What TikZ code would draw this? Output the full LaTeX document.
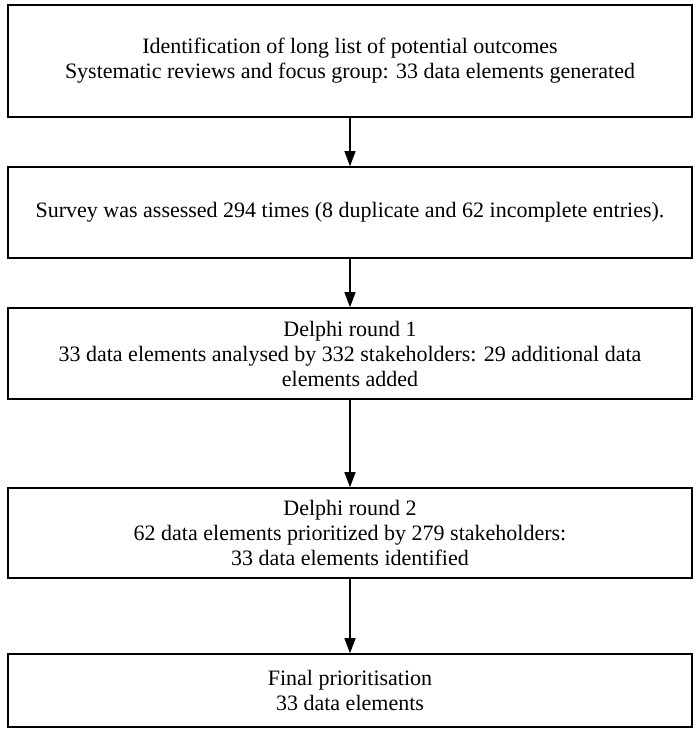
\documentclass[tikz,border=0pt]{standalone}
\usepackage{fontspec}
\setmainfont{Liberation Serif}
\usetikzlibrary{arrows.meta}
\tikzset{stage/.append style={draw, line width=0.8pt, minimum width=342pt, inner sep=0pt, align=center, font=\fontsize{11}{12.5}\selectfont}}
\tikzset{flow/.append style={line width=0.55pt, -{Triangle[length=7.5pt,width=5.5pt]}}}

\begin{document}
\begin{tikzpicture}[x=0.5pt,y=-0.5pt]
                \useasboundingbox (0,0) rectangle (700,733);
                % stages
                \node[stage,minimum height=56pt] (ident) at (350,61) {Identification of long list of potential outcomes\\Systematic reviews and focus group: 33 data elements generated};
                \node[stage,minimum height=45.5pt] (survey) at (350,212.5) {Survey was assessed 294 times (8 duplicate and 62 incomplete entries).};
                \node[stage,minimum height=45.5pt] (rone) at (350,353.5) {Delphi round 1\\33 data elements analysed by 332 stakeholders: 29 additional data\\elements added};
                \node[stage,minimum height=45pt] (rtwo) at (350,533) {Delphi round 2\\62 data elements prioritized by 279 stakeholders:\\33 data elements identified};
                \node[stage,minimum height=36.5pt] (final) at (350,690.5) {Final prioritisation\\33 data elements};
                \path (ident) edge[flow] (survey);
                \path (survey) edge[flow] (rone);
                \path (rone) edge[flow] (rtwo);
                \path (rtwo) edge[flow] (final);
            \end{tikzpicture}
\end{document}
